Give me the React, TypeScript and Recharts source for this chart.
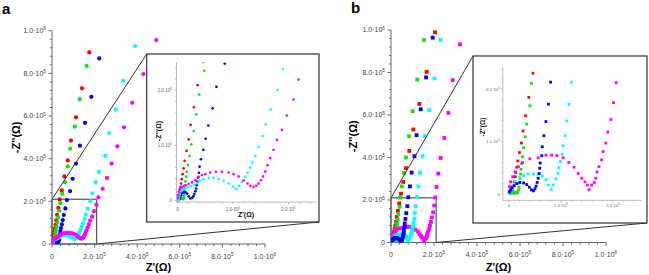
import React from 'react';
import { ScatterChart, Scatter, XAxis, YAxis, ReferenceArea } from 'recharts';

type P = [number, number];
const UNIT = 1e5; // values below are in units of 1e5 Ω

// ---------- Panel a (circles) ----------
const aRed: P[] = [[1.75,8.98],[1.41,7.30],[1.13,5.94],[0.89,4.85],[0.74,3.92],[0.58,3.17],[0.46,2.51],[0.36,2.09],[0.295,1.69],[0.235,1.37],[0.20,1.11],[0.162,0.90],[0.126,0.72],[0.108,0.586],[0.09,0.48],[0.075,0.39],[0.062,0.31],[0.052,0.25],[0.044,0.19],[0.036,0.14],[0.03,0.10],[0.025,0.07],[0.02,0.045],[0.015,0.025],[0.01,0.01]];
const aGreen: P[] = [[1.63,8.35],[1.30,6.79],[1.07,5.50],[0.85,4.47],[0.74,3.64],[0.61,2.90],[0.48,2.35],[0.39,1.92],[0.337,1.56],[0.29,1.26],[0.247,1.02],[0.216,0.81],[0.187,0.646],[0.165,0.524],[0.15,0.434],[0.14,0.35],[0.132,0.28],[0.126,0.22],[0.122,0.17],[0.12,0.13],[0.118,0.095],[0.115,0.065],[0.11,0.04],[0.10,0.028],[0.085,0.035],[0.07,0.045],[0.055,0.045],[0.04,0.035],[0.03,0.02],[0.02,0.01]];
const aBlue: P[] = [[2.22,8.70],[1.85,6.90],[1.55,5.68],[1.31,4.61],[1.13,3.77],[0.97,3.06],[0.85,2.48],[0.70,2.06],[0.63,1.67],[0.553,1.36],[0.505,1.12],[0.463,0.92],[0.42,0.75],[0.397,0.615],[0.385,0.506],[0.367,0.42],[0.355,0.34],[0.345,0.28],[0.335,0.22],[0.32,0.17],[0.30,0.12],[0.285,0.08],[0.26,0.05],[0.23,0.04],[0.20,0.08],[0.17,0.13],[0.14,0.155],[0.11,0.16],[0.085,0.14],[0.065,0.10],[0.05,0.07],[0.035,0.04],[0.025,0.02]];
const aCyan: P[] = [[3.90,9.28],[3.35,7.65],[2.99,6.30],[2.68,5.20],[2.50,4.13],[2.20,3.38],[2.05,2.90],[1.90,2.38],[1.80,2.00],[1.68,1.65],[1.59,1.38],[1.53,1.17],[1.46,0.97],[1.40,0.81],[1.35,0.69],[1.31,0.60],[1.26,0.51],[1.22,0.43],[1.16,0.34],[1.11,0.27],[1.06,0.21],[1.00,0.25],[0.92,0.31],[0.83,0.36],[0.74,0.39],[0.65,0.41],[0.56,0.41],[0.47,0.39],[0.40,0.36],[0.35,0.32],[0.30,0.29],[0.24,0.26],[0.18,0.24],[0.13,0.22],[0.09,0.20],[0.06,0.17],[0.04,0.12],[0.03,0.08],[0.02,0.04],[0.015,0.01]];
const aMagenta: P[] = [[4.90,9.56],[4.29,7.97],[3.77,6.62],[3.38,5.47],[3.07,4.58],[2.80,3.77],[2.58,3.10],[2.38,2.59],[2.18,2.19],[2.09,1.83],[1.97,1.54],[1.88,1.28],[1.79,1.10],[1.73,0.92],[1.67,0.77],[1.62,0.64],[1.58,0.53],[1.54,0.44],[1.50,0.37],[1.46,0.31],[1.42,0.27],[1.37,0.25],[1.31,0.27],[1.26,0.31],[1.19,0.37],[1.10,0.44],[1.01,0.48],[0.92,0.51],[0.80,0.52],[0.69,0.52],[0.59,0.51],[0.50,0.48],[0.44,0.465],[0.38,0.43],[0.32,0.37],[0.26,0.33],[0.20,0.30],[0.15,0.28],[0.11,0.26],[0.07,0.24],[0.04,0.21],[0.02,0.16],[0.01,0.10],[0.005,0.05]];

// ---------- Panel b (squares) ----------
const bRed: P[] = [[2.05,9.89],[1.66,8.03],[1.32,6.52],[1.04,5.32],[0.85,4.31],[0.70,3.50],[0.57,2.85],[0.46,2.30],[0.38,1.84],[0.32,1.49],[0.27,1.20],[0.24,0.97],[0.20,0.79],[0.17,0.63],[0.15,0.51],[0.13,0.41],[0.12,0.33],[0.10,0.23],[0.08,0.15],[0.06,0.08],[0.05,0.03],[0.07,0.02],[0.10,0.03],[0.12,0.02]];
const bGreen: P[] = [[1.53,9.53],[1.22,7.67],[1.01,6.18],[0.84,5.00],[0.70,4.00],[0.60,3.27],[0.50,2.64],[0.43,2.11],[0.40,1.68],[0.34,1.33],[0.31,1.09],[0.28,0.88],[0.26,0.71],[0.24,0.58],[0.23,0.47],[0.22,0.38],[0.21,0.30],[0.20,0.21],[0.19,0.13],[0.18,0.07],[0.17,0.03],[0.15,0.02],[0.12,0.03],[0.09,0.04],[0.06,0.03],[0.04,0.02],[0.02,0.01]];
const bBlue: P[] = [[1.94,9.64],[1.63,7.77],[1.38,6.27],[1.19,5.05],[1.09,4.06],[0.96,3.29],[0.88,2.64],[0.80,2.13],[0.76,1.71],[0.71,1.38],[0.67,1.11],[0.64,0.90],[0.63,0.73],[0.60,0.59],[0.59,0.49],[0.58,0.39],[0.56,0.30],[0.54,0.22],[0.52,0.15],[0.50,0.10],[0.47,0.06],[0.43,0.08],[0.39,0.13],[0.34,0.18],[0.28,0.21],[0.21,0.22],[0.15,0.20],[0.10,0.16],[0.06,0.12],[0.03,0.08],[0.01,0.04]];
const bCyan: P[] = [[2.31,9.53],[2.02,7.72],[1.78,6.23],[1.58,5.01],[1.47,4.06],[1.35,3.29],[1.27,2.64],[1.20,2.13],[1.15,1.71],[1.11,1.39],[1.08,1.11],[1.04,0.92],[1.02,0.76],[0.99,0.62],[0.96,0.50],[0.94,0.39],[0.90,0.29],[0.85,0.17],[0.81,0.09],[0.76,0.17],[0.71,0.27],[0.64,0.34],[0.56,0.38],[0.47,0.38],[0.37,0.38],[0.28,0.35],[0.20,0.31],[0.12,0.23],[0.07,0.15],[0.04,0.09],[0.02,0.04]];
const bMagenta: P[] = [[3.21,9.33],[2.87,7.64],[2.67,6.10],[2.48,4.92],[2.31,3.98],[2.20,3.24],[2.12,2.61],[2.06,2.12],[2.01,1.74],[1.96,1.42],[1.90,1.18],[1.86,0.97],[1.81,0.81],[1.78,0.65],[1.73,0.52],[1.69,0.42],[1.67,0.30],[1.64,0.22],[1.59,0.17],[1.54,0.08],[1.51,0.17],[1.46,0.23],[1.40,0.30],[1.33,0.39],[1.25,0.51],[1.15,0.60],[1.04,0.69],[0.92,0.73],[0.82,0.74],[0.71,0.74],[0.56,0.69],[0.40,0.67],[0.26,0.60],[0.18,0.52],[0.12,0.42],[0.07,0.33],[0.03,0.23],[0.01,0.14],[0.0,0.04]];

// ---------- axes ----------
const MAIN_MAX = 1e6;
const MAIN_MAJOR = 2e5;
const MAIN_MINOR = 4e4;
const INSET_MAJOR = 1e5;
const INSET_MINOR = 2e4;
const INSET_TICK_MAX = 2.4e5;
const ZOOM_BOX = 2.1e5;

const COLORS = { red: '#ff0000', green: '#14e014', blue: '#0000ff', cyan: '#00ffff', magenta: '#ff00ff' };
const FONT = '"Liberation Sans", Arial, Helvetica, sans-serif';

const range = (max: number, step: number) => {
  const out: number[] = [];
  for (let i = 0; i * step <= max + 1e-6; i++) out.push(i * step);
  return out;
};
const mainTicks = range(MAIN_MAX, MAIN_MINOR);
const insetTicks = range(INSET_TICK_MAX, INSET_MINOR);

const toXY = (arr: P[]) => arr.map(([x, y]) => ({ x: x * UNIT, y: y * UNIT }));

type Series = { color: string; data: { x: number; y: number }[] };
const seriesA: Series[] = [
  { color: COLORS.red, data: toXY(aRed) },
  { color: COLORS.green, data: toXY(aGreen) },
  { color: COLORS.blue, data: toXY(aBlue) },
  { color: COLORS.cyan, data: toXY(aCyan) },
  { color: COLORS.magenta, data: toXY(aMagenta) },
];
const seriesB: Series[] = [
  { color: COLORS.red, data: toXY(bRed) },
  { color: COLORS.green, data: toXY(bGreen) },
  { color: COLORS.magenta, data: toXY(bMagenta) },
  { color: COLORS.cyan, data: toXY(bCyan) },
  { color: COLORS.blue, data: toXY(bBlue) },
];

type TickCfg = {
  major: number; fs: number; majorLen: number; minorLen: number;
  axisColor: string; textColor: string; gap: number; dy: number; sw: number;
};

const mainCfg: TickCfg = { major: MAIN_MAJOR, fs: 7, majorLen: 3.5, minorLen: 2, axisColor: '#666', textColor: '#444', gap: 6, dy: 14.5, sw: 1 };
const insetCfgA: TickCfg = { major: INSET_MAJOR, fs: 4.5, majorLen: 2, minorLen: 1.3, axisColor: '#aaa', textColor: '#666', gap: 4.5, dy: 8.5, sw: 0.8 };
const insetCfgB: TickCfg = { major: INSET_MAJOR, fs: 4.3, majorLen: 2, minorLen: 1.3, axisColor: '#aaa', textColor: '#666', gap: 3, dy: 6.5, sw: 0.8 };

function tickLabel(v: number, fs: number) {
  if (Math.abs(v) < 1e-9) return '0';
  const e = Math.floor(Math.log10(v) + 1e-9);
  const m = (v / Math.pow(10, e)).toFixed(1);
  return (
    <>
      {m}·10<tspan dy={-fs * 0.42} fontSize={fs * 0.68}>{e}</tspan>
    </>
  );
}

function renderTick(p: any, cfg: TickCfg, axis: 'x' | 'y') {
  const { x, y, payload } = p;
  const v = payload.value as number;
  const r = v / cfg.major;
  const isMajor = Math.abs(r - Math.round(r)) < 1e-6;
  const len = isMajor ? cfg.majorLen : cfg.minorLen;
  if (axis === 'y') {
    return (
      <g>
        <line x1={x} y1={y} x2={x - len} y2={y} stroke={cfg.axisColor} strokeWidth={cfg.sw} />
        {isMajor && (
          <text x={x - cfg.gap} y={y + cfg.fs * 0.35} textAnchor="end" fontSize={cfg.fs} fill={cfg.textColor} fontFamily={FONT}>
            {tickLabel(v, cfg.fs)}
          </text>
        )}
      </g>
    );
  }
  return (
    <g>
      <line x1={x} y1={y} x2={x} y2={y + len} stroke={cfg.axisColor} strokeWidth={cfg.sw} />
      {isMajor && (
        <text x={x} y={y + cfg.dy} textAnchor="middle" fontSize={cfg.fs} fill={cfg.textColor} fontFamily={FONT}>
          {tickLabel(v, cfg.fs)}
        </text>
      )}
    </g>
  );
}

type PanelProps = {
  left: number; top: number; width: number; height: number;
  margin: { top: number; right: number; bottom: number; left: number };
  yW: number; xH: number;
  xDomain: [number, number]; yDomain: [number, number];
  ticks: number[]; cfg: TickCfg; series: Series[];
  marker: 'circle' | 'square'; size: number; box?: number; bg?: string;
};

function Panel(props: PanelProps) {
  const { left, top, width, height, margin, yW, xH, xDomain, yDomain, ticks, cfg, series, marker, size, box, bg } = props;
  const shape = (color: string) => (p: any) => {
    if (p.cx == null || p.cy == null) return <g />;
    return marker === 'circle' ? (
      <circle cx={p.cx} cy={p.cy} r={size} fill={color} />
    ) : (
      <rect x={p.cx - size / 2} y={p.cy - size / 2} width={size} height={size} fill={color} />
    );
  };
  return (
    <div style={{ position: 'absolute', left, top, width, height, background: bg || 'transparent' }}>
      <ScatterChart width={width} height={height} margin={margin}>
        <XAxis
          type="number" dataKey="x" domain={xDomain} allowDataOverflow ticks={ticks} interval={0}
          tickSize={0} tickMargin={0} tickLine={false} height={xH}
          axisLine={{ stroke: cfg.axisColor, strokeWidth: cfg.sw }}
          tick={(p: any) => renderTick(p, cfg, 'x')}
        />
        <YAxis
          type="number" dataKey="y" domain={yDomain} allowDataOverflow ticks={ticks} interval={0}
          tickSize={0} tickMargin={0} tickLine={false} width={yW}
          axisLine={{ stroke: cfg.axisColor, strokeWidth: cfg.sw }}
          tick={(p: any) => renderTick(p, cfg, 'y')}
        />
        {series.map((s, i) => (
          <Scatter key={i} data={s.data} isAnimationActive={false} shape={shape(s.color)} />
        ))}
        {box !== undefined && (
          <ReferenceArea x1={0} x2={box} y1={0} y2={box} fill="none" fillOpacity={0} stroke="#333" strokeWidth={1} ifOverflow="visible" />
        )}
      </ScatterChart>
    </div>
  );
}

// layout (pixels)
const A_PLOT = { left: 52, right: 265, top: 30.7, bottom: 244 };
const B_PLOT = { left: 391, right: 606, top: 30, bottom: 242.5 };
const INSET_A = { x: 146.7, y: 54, w: 172.3, h: 168 };
const INSET_B = { x: 473, y: 56, w: 174, h: 167 };

const px = (plot: typeof A_PLOT, v: number) => plot.left + (v / MAIN_MAX) * (plot.right - plot.left);
const py = (plot: typeof A_PLOT, v: number) => plot.bottom - (v / MAIN_MAX) * (plot.bottom - plot.top);

export default function App() {
  return (
    <div style={{ position: 'fixed', left: 0, top: 0, width: 649, height: 275, background: '#fff', overflow: 'hidden', fontFamily: FONT }}>
      <Panel
        left={0} top={0} width={280} height={275}
        margin={{ top: A_PLOT.top, right: 280 - A_PLOT.right, bottom: 0, left: 0 }}
        yW={A_PLOT.left} xH={275 - A_PLOT.bottom}
        xDomain={[0, MAIN_MAX]} yDomain={[0, MAIN_MAX]} ticks={mainTicks} cfg={mainCfg}
        series={seriesA} marker="circle" size={2.1} box={ZOOM_BOX}
      />
      <Panel
        left={339} top={0} width={280} height={275}
        margin={{ top: B_PLOT.top, right: 619 - B_PLOT.right, bottom: 0, left: 0 }}
        yW={B_PLOT.left - 339} xH={275 - B_PLOT.bottom}
        xDomain={[0, MAIN_MAX]} yDomain={[0, MAIN_MAX]} ticks={mainTicks} cfg={mainCfg}
        series={seriesB} marker="square" size={3.8} box={ZOOM_BOX}
      />
      <Panel
        left={INSET_A.x} top={INSET_A.y} width={INSET_A.w} height={INSET_A.h}
        margin={{ top: 62.45 - INSET_A.y, right: INSET_A.x + INSET_A.w - 316, bottom: 0, left: 0 }}
        yW={176.2 - INSET_A.x} xH={INSET_A.y + INSET_A.h - 202.1}
        xDomain={[-0.02 * UNIT, 2.5 * UNIT]} yDomain={[-0.025 * UNIT, 2.5 * UNIT]} ticks={insetTicks} cfg={insetCfgA}
        series={seriesA} marker="circle" size={1.35} bg="#fff"
      />
      <Panel
        left={INSET_B.x} top={INSET_B.y} width={INSET_B.w} height={INSET_B.h}
        margin={{ top: 68 - INSET_B.y, right: INSET_B.x + INSET_B.w - 641.6, bottom: 0, left: 0 }}
        yW={502.8 - INSET_B.x} xH={INSET_B.y + INSET_B.h - 200.3}
        xDomain={[-0.12 * UNIT, 2.55 * UNIT]} yDomain={[-0.12 * UNIT, 2.4 * UNIT]} ticks={insetTicks} cfg={insetCfgB}
        series={seriesB} marker="square" size={2.8} bg="#fff"
      />
      <svg width={649} height={275} style={{ position: 'absolute', left: 0, top: 0, pointerEvents: 'none' }} fontFamily={FONT}>
        <text x={2} y={14} fontSize={15} fontWeight="bold" fill="#000">a</text>
        <text x={351} y={13} fontSize={15} fontWeight="bold" fill="#000">b</text>

        <text transform={`translate(19.5,${(A_PLOT.top + A_PLOT.bottom) / 2}) rotate(-90)`} textAnchor="middle" fontSize={11} fontWeight="bold" fill="#000">-Z''(Ω)</text>
        <text x={(A_PLOT.left + A_PLOT.right) / 2} y={271} textAnchor="middle" fontSize={11} fontWeight="bold" fill="#000">Z'(Ω)</text>
        <text transform={`translate(357,${(B_PLOT.top + B_PLOT.bottom) / 2}) rotate(-90)`} textAnchor="middle" fontSize={11} fontWeight="bold" fill="#000">-Z''(Ω)</text>
        <text x={(B_PLOT.left + B_PLOT.right) / 2} y={271} textAnchor="middle" fontSize={11} fontWeight="bold" fill="#000">Z'(Ω)</text>

        <text transform="translate(160.5,131) rotate(-90)" textAnchor="middle" fontSize={7} fontWeight="bold" fill="#111">-Z''(Ω)</text>
        <text x={246} y={217} textAnchor="middle" fontSize={7} fontWeight="bold" fill="#111">Z'(Ω)</text>
        <text transform="translate(485,127) rotate(-90)" textAnchor="middle" fontSize={6.5} fontWeight="bold" fill="#111">-Z''(Ω)</text>

        <rect x={INSET_A.x} y={INSET_A.y} width={INSET_A.w} height={INSET_A.h} fill="none" stroke="#333" strokeWidth={1.2} />
        <rect x={INSET_B.x} y={INSET_B.y} width={INSET_B.w} height={INSET_B.h} fill="none" stroke="#333" strokeWidth={1.2} />

        <line x1={px(A_PLOT, 0)} y1={py(A_PLOT, ZOOM_BOX)} x2={INSET_A.x} y2={INSET_A.y} stroke="#333" strokeWidth={1} />
        <line x1={px(A_PLOT, ZOOM_BOX)} y1={py(A_PLOT, 0)} x2={INSET_A.x + INSET_A.w} y2={INSET_A.y + INSET_A.h} stroke="#333" strokeWidth={1} />
        <line x1={px(B_PLOT, 0)} y1={py(B_PLOT, ZOOM_BOX)} x2={INSET_B.x} y2={INSET_B.y} stroke="#333" strokeWidth={1} />
        <line x1={px(B_PLOT, ZOOM_BOX)} y1={py(B_PLOT, 0)} x2={INSET_B.x + INSET_B.w} y2={INSET_B.y + INSET_B.h} stroke="#333" strokeWidth={1} />
      </svg>
    </div>
  );
}
